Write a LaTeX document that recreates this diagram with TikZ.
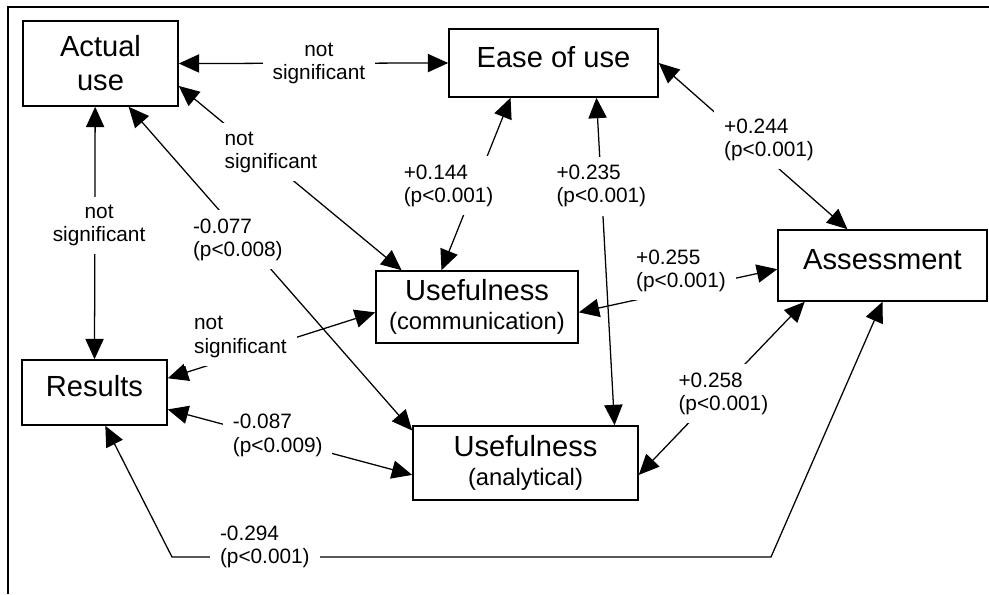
\documentclass[tikz,border=0pt]{standalone}
\usepackage{fontspec}
\setmainfont{Liberation Sans}
\usetikzlibrary{arrows.meta}

\begin{document}
\begin{tikzpicture}[x=0.025cm, y=-0.025cm,
    box/.style={draw, line width=1.1pt, inner sep=0pt, align=center,
        font=\fontsize{20.7}{24.2}\selectfont},
    onebox/.style={box, text depth=9pt},
    lbl/.style={fill=white, inner xsep=7pt, inner ysep=6pt, align=left,
        font=\fontsize{14.8}{16.4}\selectfont},
    link/.style={line width=0.9pt,
        {Triangle[length=14.5pt,width=13pt]}-{Triangle[length=14.5pt,width=13pt]}}]
  \useasboundingbox (0,0) rectangle (989,594);
  % frame
  \draw[line width=1.2pt] (989,7) -- (8,7) -- (8,594);
  % boxes
  \node[box, minimum width=3.875cm, minimum height=2.125cm] (act) at (100.5,63.5) {Actual\\use};
  \node[onebox, minimum width=5.225cm, minimum height=1.7cm] (ease) at (553.5,63) {Ease of use};
  \node[onebox, minimum width=5.225cm, minimum height=1.775cm] (ass) at (882.5,265.5) {Assessment};
  \node[box, minimum width=5.05cm, minimum height=1.8cm] (comm) at (477,307)
    {Usefulness\\[-3pt]{\fontsize{16.9}{19}\selectfont (communication)}};
  \node[onebox, minimum width=3.625cm, minimum height=1.625cm] (res) at (94.5,392.5) {Results};
  \node[box, minimum width=5.625cm, minimum height=1.85cm] (anal) at (525.5,463)
    {Usefulness\\[-3.5pt]{\fontsize{16.9}{19}\selectfont (analytical)}};
  % connectors
  \draw[link] (act.east) -- node[lbl, align=center, pos=.52] (ns1) {not\\significant} (ease.west);
  \draw[link] (act.-16) -- node[lbl, pos=.36, xshift=8.5pt] (ns2) {not\\significant} (comm.154);
  \draw[link] (act.-97) -- node[lbl, align=center, pos=.47, xshift=3pt] (ns3) {not\\significant} (res.north);
  \draw[link] (act.-57) -- node[lbl, pos=.41, xshift=-5pt] (c077) {-0.077\\(p<0.008)} (anal.164);
  \draw[link] (ease.-141) -- node[lbl, pos=.51, xshift=-19pt] (c144) {+0.144\\(p<0.001)} (comm.134);
  \draw[link] (ease.-39) -- node[lbl, pos=.27] (c235) {+0.235\\(p<0.001)} (anal.23);
  \draw[link] (ease.east) -- node[lbl, pos=.46, xshift=16.7pt] (c244) {+0.244\\(p<0.001)} (ass.134);
  \draw[link] (comm.-3) -- node[lbl, pos=.515, yshift=13.9pt] (c255) {+0.255\\(p<0.001)} (ass.182);
  \draw[link] (res.11) -- node[lbl, pos=.35, yshift=13pt] (ns4) {not\\significant} (comm.183);
  \draw[link] (res.-13) -- node[lbl, pos=.45, yshift=2.5pt] (c087) {-0.087\\(p<0.009)} (anal.186);
  \draw[link] (ass.-155) -- node[lbl, pos=.53, xshift=4.7pt] (c258) {+0.258\\(p<0.001)} (anal.-6);
  \coordinate (b1) at (771,557);
  \coordinate (b2) at (172,557);
  \draw[link] (res.-72) -- (b2) -- node[lbl, pos=.155, yshift=7pt] (c294) {-0.294\\(p<0.001)} (b1) -- (ass.south);
\end{tikzpicture}
\end{document}
